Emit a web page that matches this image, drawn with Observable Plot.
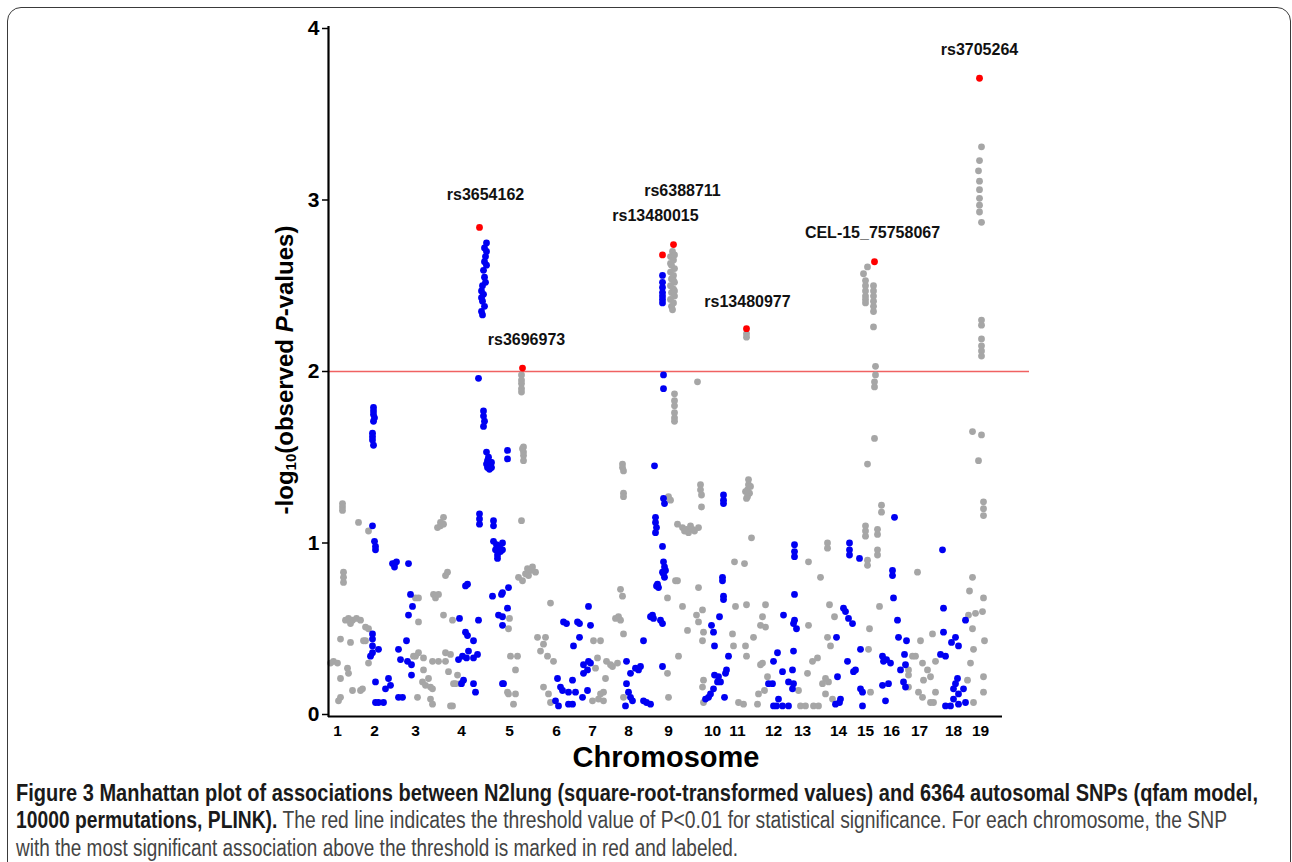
<!DOCTYPE html>
<html>
<head>
<meta charset="utf-8">
<script src="https://cdn.jsdelivr.net/npm/d3@7"></script>
<script src="https://cdn.jsdelivr.net/npm/@observablehq/plot@0.6"></script>
<style>
  html, body { margin: 0; padding: 0; background: #fff; width: 1292px; height: 862px; overflow: hidden; }
  #frame { position: absolute; left: 7px; top: 7px; width: 1282px; height: 900px; border: 1px solid #3a3a3a; border-radius: 14px; }
  #chart { position: absolute; left: 0; top: 0; }
  .cap { position: absolute; left: 16px; white-space: nowrap; font-family: "Liberation Sans Narrow", "Liberation Sans", Arial, sans-serif; font-size: 23px; line-height: 28px; color: #444; transform-origin: 0 50%; display: inline-block; }
  .cap b { color: #1a1a1a; }
  #chart svg text { font-family: "Liberation Sans", Arial, sans-serif; }
</style>
</head>
<body>
<div id="frame"></div>
<div id="chart"></div>
<div class="cap" id="cap1" style="top:779px"><b>Figure 3 Manhattan plot of associations between N2lung (square-root-transformed values) and 6364 autosomal SNPs (qfam model,</b></div>
<div class="cap" id="cap2" style="top:806px"><b>10000 permutations, PLINK).</b> The red line indicates the threshold value of P&lt;0.01 for statistical significance. For each chromosome, the SNP</div>
<div class="cap" id="cap3" style="top:834px">with the most significant association above the threshold is marked in red and labeled.</div>
<script>
// ---------------- DATA ----------------
// Chromosome labels and their positions along the cumulative genome axis
const chrNames = ["1","2","3","4","5","6","7","8","9","10","11","12","13","14","15","16","17","18","19"];
const chrPos = [36,184,348,532,724,912,1056,1200,1360,1536,1636,1780,1896,2040,2148,2252,2364,2500,2608];
const genomeLength = 2696;
const axisMax = 2804;
const threshold = 2; // -log10(0.01)
const yTicks = [0, 1, 2, 3, 4];

// SNPs on odd-coloured (grey) chromosomes: [cumulative position, -log10 P]
const grayPts = [
  // chr1
  [56,1.23],[56,1.21],[56,1.19],[60,0.83],[60,0.80],[60,0.77],[120,1.12],[160,1.07],
  [68,0.55],[80,0.56],[96,0.55],[112,0.56],[128,0.55],[88,0.53],[160,0.50],
  [48,0.44],[88,0.42],[148,0.43],[8,0.30],[20,0.31],[36,0.30],[76,0.27],[80,0.24],[48,0.21],[160,0.30],
  [96,0.14],[128,0.14],[48,0.10],[40,0.08],[140,0.43],[148,0.51],[136,0.15],
  // chr3
  [436,1.09],[448,1.12],[460,1.15],[448,1.10],[460,1.11],[476,0.83],[468,0.81],
  [420,0.70],[428,0.68],[440,0.70],[360,0.68],[348,0.68],[460,0.58],[496,0.55],[360,0.54],
  [348,0.34],[380,0.33],[416,0.31],[360,0.36],[380,0.26],[376,0.19],[388,0.17],[408,0.16],[416,0.15],
  [468,0.31],[488,0.35],[480,0.25],[356,0.10],[408,0.09],[416,0.06],[496,0.05],[488,0.05],[508,0.18],
  [440,0.31],[468,0.36],[516,0.23],[500,0.18],[528,0.18],[400,0.21],[340,0.34],
  // chr5
  [772,1.98],[772,1.95],[772,1.93],[772,1.90],[772,1.88],[780,1.56],[780,1.53],[780,1.51],[780,1.48],[776,1.55],
  [772,1.13],[760,0.80],[776,0.78],[796,0.85],[808,0.84],[816,0.86],[788,0.82],[828,0.83],[800,0.81],
  [724,0.56],[720,0.50],[888,0.65],[836,0.45],[868,0.45],[860,0.41],[848,0.37],[876,0.34],[900,0.31],
  [728,0.34],[756,0.34],[748,0.26],[860,0.16],[880,0.12],[888,0.07],[740,0.06],[720,0.12],[748,0.12],[716,0.13],
  // chr7
  [1060,0.43],[1088,0.43],[1076,0.33],[1068,0.27],[1128,0.29],[1108,0.21],[1056,0.08],[1080,0.09],[1100,0.13],
  [1136,0.28],[1176,1.46],[1176,1.44],[1180,1.42],[1180,1.29],[1180,1.27],[1168,0.73],[1176,0.69],[1160,0.57],[1180,0.47],
  [1148,0.56],[1168,0.55],[1112,0.31],[1156,0.30],[1088,0.12],[1100,0.08],[1180,0.10],
  // chr9
  [1376,2.70],[1368,2.67],[1380,2.65],[1372,2.62],[1384,2.60],[1368,2.58],[1380,2.56],[1372,2.54],[1384,2.52],
  [1368,2.50],[1380,2.48],[1372,2.46],[1384,2.44],[1368,2.42],[1380,2.40],[1372,2.38],[1376,2.36],[1384,2.68],
  [1368,2.63],[1384,2.47],[1380,2.53],
  [1384,1.87],[1384,1.83],[1384,1.80],[1384,1.76],[1384,1.73],[1384,1.71],[1476,1.94],
  [1360,1.27],[1368,1.25],[1396,1.11],[1388,0.78],[1356,0.68],
  [1488,1.34],[1488,1.31],[1492,1.28],[1492,1.21],
  [1416,1.09],[1432,1.08],[1448,1.10],[1464,1.07],[1480,1.09],[1440,1.06],[1424,1.07],[1456,1.08],
  [1396,0.78],[1480,0.74],[1416,0.63],[1496,0.61],[1472,0.58],[1480,0.54],[1436,0.49],[1500,0.48],[1496,0.43],
  [1400,0.34],[1356,0.24],[1360,0.10],[1500,0.20],[1496,0.16],[1500,0.07],
  // chr11
  [1624,0.89],[1664,0.88],[1680,1.37],[1680,1.34],[1676,1.31],[1684,1.29],[1676,1.27],[1672,1.26],[1688,1.33],[1668,1.30],[1692,1.03],
  [1628,0.63],[1672,0.64],[1748,0.64],[1736,0.57],[1728,0.52],[1700,0.45],[1748,0.51],
  [1616,0.47],[1620,0.40],[1668,0.40],[1672,0.34],[1640,0.07],[1660,0.06],[1716,0.06],[1720,0.12],[1744,0.14],[1756,0.22],[1736,0.30],[1728,0.29],
  [1672,2.20],[1672,2.22],
  // chr13
  [1996,1.00],[1996,0.97],[1920,0.89],[1968,0.80],[1920,0.52],[1916,0.24],[1936,0.31],[1956,0.33],
  [1976,0.18],[2000,0.19],[1988,0.12],[2016,0.09],[1996,0.45],[2008,0.40],[2024,0.57],[2004,0.64],
  [1880,0.14],[1888,0.05],[1908,0.05],[1940,0.05],[1960,0.05],[1988,0.21],
  // chr15
  [2156,2.61],[2140,2.57],[2148,2.53],[2148,2.50],[2148,2.47],[2148,2.44],[2148,2.42],[2148,2.40],
  [2180,2.50],[2180,2.47],[2180,2.44],[2180,2.41],[2180,2.38],[2180,2.35],[2180,2.26],[2188,2.03],[2188,1.98],[2184,1.94],[2184,1.91],
  [2184,1.61],[2156,1.46],[2212,1.22],[2212,1.18],[2148,1.10],[2148,1.07],[2148,1.04],[2196,1.08],[2196,1.05],[2196,0.96],[2196,0.93],[2156,0.90],
  [2204,0.63],[2164,0.50],[2160,0.38],[2168,0.13],[2156,0.87],
  // chr17
  [2356,0.83],[2368,0.43],[2416,0.47],[2336,0.34],[2348,0.34],[2376,0.30],[2396,0.26],[2428,0.31],[2320,0.23],[2380,0.20],
  [2408,0.22],[2320,0.16],[2376,0.10],[2408,0.07],[2428,0.13],[2420,0.07],[2320,0.26],[2360,0.13],
  // chr19
  [2576,1.65],[2612,1.63],[2600,1.48],[2620,1.24],[2620,1.20],[2620,1.16],[2576,0.80],[2564,0.72],[2620,0.68],
  [2560,0.58],[2588,0.59],[2616,0.60],[2576,0.50],[2580,0.38],[2624,0.43],[2568,0.30],[2556,0.20],[2620,0.22],[2620,0.13],[2580,0.07],
  [2612,3.31],[2604,3.23],[2600,3.17],[2604,3.11],[2604,3.06],[2604,3.01],[2604,2.97],[2604,2.93],[2612,2.87],
  [2612,2.30],[2612,2.27],[2612,2.19],[2612,2.15],[2612,2.12],[2612,2.09]
];

// SNPs on even-coloured (blue) chromosomes: [cumulative position, -log10 P]
const bluePts = [
  // chr2
  [180,1.79],[180,1.77],[180,1.75],[184,1.73],[180,1.71],[176,1.64],[176,1.62],[176,1.60],[180,1.57],[176,1.10],
  [184,1.01],[188,0.98],[188,0.96],[256,0.88],[264,0.86],[272,0.89],[264,0.88],[320,0.88],[328,0.70],[336,0.63],[320,0.58],
  [176,0.47],[176,0.44],[176,0.40],[200,0.38],[168,0.34],[176,0.36],[280,0.38],[312,0.43],
  [188,0.19],[240,0.21],[228,0.15],[248,0.17],[200,0.07],[220,0.07],[188,0.07],[296,0.10],[280,0.10],[332,0.29],[332,0.23],[288,0.32],[316,0.31],
  // chr4
  [600,1.96],[620,1.77],[620,1.74],[624,1.71],[620,1.68],[632,1.53],[640,1.50],[648,1.47],[632,1.46],[644,1.45],[652,1.44],[636,1.48],[644,1.43],
  [640,1.46],[648,1.44],[636,1.44],[652,1.47],
  [604,1.17],[604,1.14],[604,1.11],[660,1.13],[660,1.10],
  [660,1.01],[672,0.99],[680,0.97],[676,0.93],[676,0.91],[688,0.95],[696,1.00],[696,0.96],[668,0.96],[684,0.98],
  [556,0.76],[548,0.75],[656,0.69],[692,0.70],[524,0.56],[600,0.55],[680,0.58],
  [548,0.48],[556,0.46],[580,0.43],[536,0.34],[560,0.37],[580,0.33],[596,0.35],[520,0.32],[552,0.33],
  [532,0.18],[580,0.18],[588,0.13],[540,0.20],[696,0.18],
  [716,1.54],[716,1.49],[720,0.74],[696,0.71],[716,0.62],[696,0.57],[696,0.52],[700,0.18],
  [632,2.75],[624,2.72],[632,2.70],[628,2.67],[624,2.64],[632,2.62],[620,2.59],[624,2.55],[628,2.52],
  [616,2.50],[612,2.47],[620,2.45],[612,2.43],[616,2.41],[624,2.38],[612,2.35],[616,2.33],
  // chr6
  [940,0.54],[952,0.53],[996,0.54],[1004,0.53],[1040,0.63],[1048,0.52],[1004,0.45],[980,0.40],
  [1020,0.29],[1040,0.31],[1020,0.24],[916,0.21],[928,0.16],[976,0.20],[960,0.13],[988,0.13],[1016,0.10],[1036,0.14],[936,0.14],
  [908,0.08],[920,0.05],[960,0.06],[976,0.06],[1048,0.30],[1036,0.26],
  // chr8
  [1192,0.31],[1208,0.24],[1228,0.27],[1248,0.28],[1240,0.26],[1192,0.18],[1200,0.13],[1216,0.08],[1188,0.05],[1208,0.10],
  [1260,0.08],[1288,0.06],[1272,0.07],[1260,0.43],[1336,0.28],[1304,1.45],[1340,1.98],[1340,1.90],[1340,1.26],[1344,1.23],
  [1308,1.15],[1308,1.12],[1312,1.09],[1308,1.06],[1336,0.98],[1340,0.89],[1344,0.86],[1336,0.83],[1348,0.84],[1340,0.82],[1344,0.80],
  [1316,0.76],[1320,0.74],[1312,0.75],[1296,0.58],[1288,0.57],[1328,0.55],[1336,0.53],[1300,0.56],
  [1336,2.56],[1336,2.52],[1336,2.49],[1336,2.46],[1336,2.44],[1336,2.42],[1336,2.40],
  // chr10
  [1580,1.28],[1580,1.25],[1580,1.23],[1576,0.80],[1576,0.78],[1580,0.69],[1580,0.67],[1564,0.57],[1532,0.52],[1540,0.48],
  [1544,0.40],[1600,0.34],[1592,0.26],[1588,0.24],[1544,0.23],[1556,0.19],[1568,0.19],[1540,0.15],[1520,0.10],[1508,0.09],[1584,0.10],[1528,0.12],[1560,0.22],
  // chr12
  [1864,0.99],[1864,0.95],[1864,0.92],[1864,0.70],[1820,0.58],[1860,0.53],[1872,0.50],[1864,0.55],[1796,0.36],[1780,0.31],
  [1816,0.25],[1856,0.26],[1860,0.37],[1760,0.18],[1776,0.18],[1840,0.19],[1856,0.15],[1800,0.09],[1780,0.05],[1816,0.05],[1840,0.05],[1792,0.05],[1860,0.18],
  // chr14
  [2084,1.00],[2084,0.96],[2084,0.93],[2060,0.62],[2080,0.56],[2096,0.53],[2068,0.60],[2032,0.45],[2076,0.31],[2100,0.25],[2036,0.22],[2048,0.09],[2028,0.06],
  [2124,0.91],[2128,0.38],[2108,0.26],[2128,0.15],[2136,0.13],[2136,0.05],[2044,0.07],
  // chr16
  [2264,1.15],[2256,0.84],[2256,0.81],[2260,0.68],[2276,0.55],[2280,0.45],[2312,0.43],[2216,0.34],[2220,0.31],[2248,0.30],
  [2304,0.35],[2288,0.26],[2308,0.29],[2300,0.19],[2308,0.16],[2216,0.17],[2240,0.18],[2228,0.08],[2232,0.32],
  // chr18
  [2456,0.96],[2460,0.62],[2548,0.55],[2460,0.48],[2508,0.45],[2520,0.40],[2448,0.35],[2468,0.34],[2516,0.21],[2500,0.15],
  [2540,0.15],[2468,0.05],[2488,0.05],[2520,0.06],[2548,0.07],[2500,0.09],[2492,0.42],[2508,0.18],[2520,0.12]
];

// Most significant SNP per chromosome above threshold
const topNames = ["rs3654162","rs3696973","rs13480015","rs6388711","rs13480977","CEL-15_75758067","rs3705264"];
const topChr   = [4, 5, 8, 9, 11, 15, 19];
const topPos   = [604, 776, 1336, 1380, 1672, 2184, 2604];
const topVal   = [2.84, 2.02, 2.68, 2.74, 2.25, 2.64, 3.71];

// ---------------- BUILD ----------------
const graySnps = grayPts.map(([pos, val]) => ({pos, val}));
const blueSnps = bluePts.map(([pos, val]) => ({pos, val}));
const topSnps = topNames.map((name, i) => ({name, chr: topChr[i], pos: topPos[i], val: topVal[i]}));

// label placement tweaks (style only)
const labelOffset = {
  "rs3654162": [6, -33],
  "rs3696973": [4, -28],
  "rs13480015": [-7, -39],
  "rs6388711": [9, -54],
  "rs13480977": [1, -27],
  "CEL-15_75758067": [-2, -29],
  "rs3705264": [0, -28]
};

const labelMarks = topSnps.map(d => Plot.text([d], {
  x: "pos", y: "val", text: "name",
  dx: labelOffset[d.name][0], dy: labelOffset[d.name][1],
  fontSize: 16, fontWeight: "bold", fill: "#111"
}));

const chart = Plot.plot({
  width: 1292,
  height: 775,
  marginLeft: 328,
  marginRight: 263,
  marginTop: 28,
  marginBottom: 61,
  x: {domain: [0, axisMax], axis: null},
  y: {domain: [0, 4], axis: null},
  style: {background: "none", fontFamily: "Liberation Sans, Arial, sans-serif", color: "black", overflow: "visible"},
  marks: [
    Plot.ruleY([threshold], {stroke: "#f06262", strokeWidth: 1.6}),
    Plot.dot(graySnps, {x: "pos", y: "val", r: 3.4, fill: "#a6a6a6", stroke: "none"}),
    Plot.dot(blueSnps, {x: "pos", y: "val", r: 3.4, fill: "#0000f2", stroke: "none"}),
    Plot.dot(topSnps, {x: "pos", y: "val", r: 3.4, fill: "#ff0000", stroke: "none"}),
    ...labelMarks,
    Plot.ruleX([0], {stroke: "black", strokeWidth: 2.2, insetTop: -2, insetBottom: -3}),
    Plot.ruleY([0], {x1: 0, x2: genomeLength, stroke: "black", strokeWidth: 2.2, dy: 2}),
    Plot.axisY(yTicks, {label: null, tickSize: 6, tickPadding: 3, fontSize: 21, fontWeight: "bold", tickFormat: d => String(d), stroke: "black", strokeWidth: 1.5}),
    Plot.axisX(chrPos, {label: null, tickSize: 0, tickPadding: 10, fontSize: 15.5, fontWeight: "bold", tickFormat: d => chrNames[chrPos.indexOf(d)]})
  ]
});

document.getElementById("chart").appendChild(chart);

// Axis titles
const svg = d3.select(chart);
const yt = svg.append("text")
  .attr("transform", "translate(284,370) rotate(-90)")
  .attr("text-anchor", "middle")
  .attr("dominant-baseline", "central")
  .attr("font-size", 24)
  .attr("font-weight", "bold")
  .attr("fill", "black");
yt.append("tspan").text("-log");
yt.append("tspan").attr("font-size", 15).attr("dy", 6).text("10");
yt.append("tspan").attr("dy", -6).text("(observed ");
yt.append("tspan").attr("font-style", "italic").text("P");
yt.append("tspan").text("-values)");

svg.append("text")
  .attr("x", 666).attr("y", 757)
  .attr("text-anchor", "middle")
  .attr("dominant-baseline", "central")
  .attr("font-size", 29)
  .attr("font-weight", "bold")
  .attr("fill", "black")
  .text("Chromosome");

// Fit caption lines to their widths in the figure
const targets = {cap1: 1242, cap2: 1211, cap3: 722};
for (const id of Object.keys(targets)) {
  const el = document.getElementById(id);
  const w = el.getBoundingClientRect().width;
  if (w > 0) el.style.transform = `scaleX(${targets[id] / w})`;
}
</script>
</body>
</html>
